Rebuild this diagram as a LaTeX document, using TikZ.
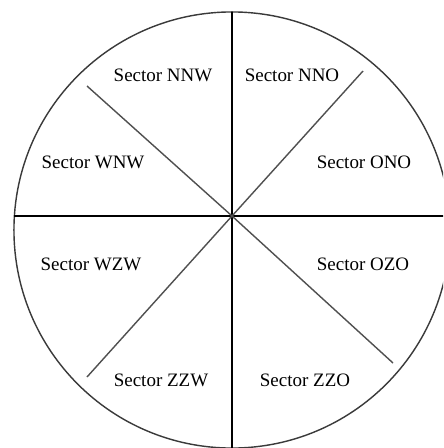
\documentclass[tikz,border=0pt]{standalone}
\usepackage{fontspec}
\setmainfont{Liberation Serif}
\definecolor{rim}{HTML}{3A3A3A}
\definecolor{spoke}{HTML}{505050}
\begin{document}
\begin{tikzpicture}[x=0.025cm,y=-0.025cm,line width=1pt,
	every node/.style={font=\fontsize{13.5}{16}\selectfont}]
	\clip (0,0) rectangle (443,448);
	\fill[white] (0,0) rectangle (443,448);
	\draw[rim] (232,230) circle (5.45cm);
	% axes
	\coordinate (c) at (232,216);
	\coordinate (top) at (232,12);
	\coordinate (bot) at (232,450);
	\coordinate (lft) at (14,216);
	\coordinate (rgt) at (445,216);
	\draw (top) -- (bot);
	\draw (lft) -- (rgt);
	% diagonals
	\foreach \p in {(87,86), (363,71), (87,377), (393,363)}
	\draw[spoke] (c) -- \p;
	% sectors
	\node (nnw) at (163,75) {Sector NNW};
	\node (nno) at (292,75) {Sector NNO};
	\node (wnw) at (93,162) {Sector WNW};
	\node (ono) at (364,162) {Sector ONO};
	\node (wzw) at (91,264) {Sector WZW};
	\node (ozo) at (363,264) {Sector OZO};
	\node (zzw) at (161,380) {Sector ZZW};
	\node (zzo) at (305,380) {Sector ZZO};
\end{tikzpicture}
\end{document}
